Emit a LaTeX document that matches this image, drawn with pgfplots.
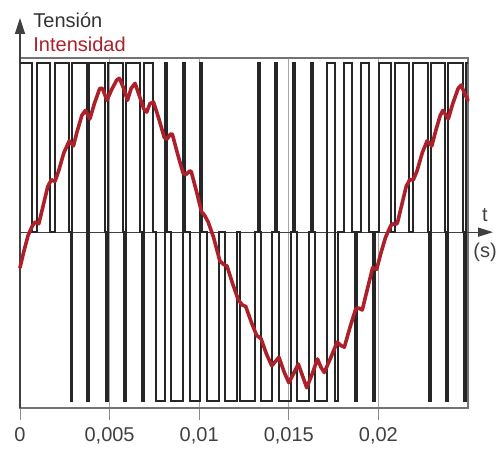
\documentclass[border=0pt]{standalone}
\usepackage{pgfplots}
\pgfplotsset{compat=1.18}
\usetikzlibrary{arrows.meta}
\usepackage{fontspec}
\setmainfont{Liberation Sans}
\definecolor{ired}{RGB}{172,32,42}
\begin{document}
\begin{tikzpicture}
\begin{axis}[name=ax, scale only axis, width=224pt, height=175pt,
 xmin=0, xmax=0.025, ymin=-1.04, ymax=1.03,
 axis line style={black!55, line width=0.6pt},
 xtick={0,0.005,0.01,0.015,0.02},
 xticklabels={0,{0,005},{0,01},{0,015},{0,02}},
 scaled x ticks=false,
 xtick pos=bottom, xtick align=outside, major tick length=6pt,
 tick style={black!45, line width=0.5pt},
 ytick=\empty,
 xmajorgrids, grid style={black!35, line width=0.5pt},
 ticklabel style={font=\fontsize{10}{12}\selectfont, text=black!75},
 clip=false]
\draw[black!75, line width=0.6pt, -{Triangle[length=7.5pt,width=4.5pt]}] (axis cs:0,0) -- (axis cs:0.0264,0);
\draw[black!75, line width=0.6pt, -{Triangle[length=8pt,width=5pt]}] (axis cs:0,-1.04) -- (axis cs:0,1.267);
\addplot[const plot, black!85, line width=1pt] coordinates {
(0,1) (0.00068,0) (0.00095,1) (0.0017,0) (0.00195,1) (0.00275,0) (0.00282,-1) (0.00292,1)
(0.00372,0) (0.00376,-1) (0.00386,1) (0.00472,0) (0.0048,-1) (0.0049,1) (0.00572,0) (0.0058,-1)
(0.0059,1) (0.00672,0) (0.0068,-1) (0.0069,1) (0.00742,0) (0.0076,-1) (0.0081,1) (0.0082,0)
(0.00845,-1) (0.0091,1) (0.0092,0) (0.0095,-1) (0.01005,1) (0.01015,0) (0.01045,-1) (0.01112,0)
(0.01142,-1) (0.0121,0) (0.01228,-1) (0.01312,0) (0.01328,1) (0.01338,0) (0.01345,-1) (0.01408,0)
(0.01425,1) (0.01435,0) (0.01445,-1) (0.0151,0) (0.01525,1) (0.01535,0) (0.01545,-1) (0.0161,0)
(0.01625,1) (0.01635,0) (0.01648,-1) (0.01712,1) (0.01755,0) (0.0176,-1) (0.01772,0) (0.0181,1)
(0.0185,0) (0.0187,-1) (0.01882,0) (0.01905,1) (0.01945,0) (0.0197,-1) (0.01982,0) (0.02005,1)
(0.0207,0) (0.02095,1) (0.0217,0) (0.02195,1) (0.02275,0) (0.02282,-1) (0.02292,1) (0.02372,0)
(0.02376,-1) (0.02386,1) (0.02472,0) (0.0248,-1) (0.0249,1) (0.025,1)};
\addplot[ired, line width=1.8pt, line join=round, line cap=round] coordinates {
(0,-0.21) (0.0002,-0.12) (0.00045,-0.02) (0.0007,0.04) (0.00085,0.06) (0.00105,0.05) (0.0013,0.16)
(0.00155,0.27) (0.00175,0.31) (0.00195,0.30) (0.00215,0.36) (0.00245,0.47) (0.00275,0.54)
(0.00298,0.51) (0.0032,0.60) (0.00345,0.69) (0.00365,0.72) (0.0039,0.67) (0.00415,0.76)
(0.00445,0.85) (0.0046,0.85) (0.00485,0.78) (0.0051,0.84) (0.0054,0.90) (0.00555,0.91)
(0.00575,0.86) (0.006,0.78) (0.0062,0.85) (0.00642,0.88) (0.00665,0.81) (0.0069,0.73)
(0.00707,0.71) (0.00725,0.76) (0.00745,0.77) (0.00775,0.67) (0.00805,0.56) (0.0082,0.55)
(0.0084,0.58) (0.0085,0.58) (0.0088,0.46) (0.0091,0.35) (0.00925,0.34) (0.00945,0.36)
(0.00955,0.36) (0.00985,0.24) (0.01013,0.12) (0.0103,0.10) (0.0105,0.06) (0.0108,-0.03)
(0.01115,-0.17) (0.01135,-0.19) (0.01155,-0.20) (0.01185,-0.30) (0.01218,-0.40) (0.0124,-0.43)
(0.0126,-0.44) (0.0129,-0.53) (0.0132,-0.61) (0.01345,-0.63) (0.01375,-0.72) (0.01405,-0.79)
(0.01445,-0.74) (0.01475,-0.83) (0.015,-0.89) (0.01525,-0.84) (0.01553,-0.78) (0.0158,-0.86)
(0.016,-0.92) (0.0163,-0.84) (0.0166,-0.75) (0.0168,-0.80) (0.01698,-0.83) (0.01735,-0.74)
(0.0177,-0.65) (0.0179,-0.67) (0.0181,-0.68) (0.01845,-0.55) (0.01875,-0.45) (0.01892,-0.45)
(0.0191,-0.46) (0.0194,-0.33) (0.01968,-0.21) (0.0199,-0.22) (0.02015,-0.12) (0.0204,-0.03)
(0.0207,0.04) (0.02085,0.05) (0.02105,0.05) (0.0213,0.16) (0.02155,0.27) (0.02175,0.31)
(0.02195,0.31) (0.02215,0.36) (0.02245,0.47) (0.02272,0.54) (0.02298,0.51) (0.0232,0.60)
(0.02345,0.69) (0.0236,0.72) (0.0239,0.67) (0.02415,0.76) (0.02445,0.85) (0.02462,0.87)
(0.02485,0.81) (0.025,0.78)};
\end{axis}
\node[anchor=west, inner sep=0pt, font=\fontsize{10}{12}\selectfont, text=black!80] at (6.5pt,194pt) {Tensión};
\node[anchor=west, inner sep=0pt, font=\fontsize{10}{12}\selectfont, text=ired] at (6.5pt,182pt) {Intensidad};
\node[inner sep=0pt, font=\fontsize{10}{12}\selectfont, text=black!75] at (232.5pt,96.5pt) {t};
\node[inner sep=0pt, font=\fontsize{10}{12}\selectfont, text=black!75] at (232.5pt,78pt) {(s)};
\pgfresetboundingbox
\path (-10pt,-20.5pt) rectangle (238.5pt,204pt);
\end{tikzpicture}
\end{document}
